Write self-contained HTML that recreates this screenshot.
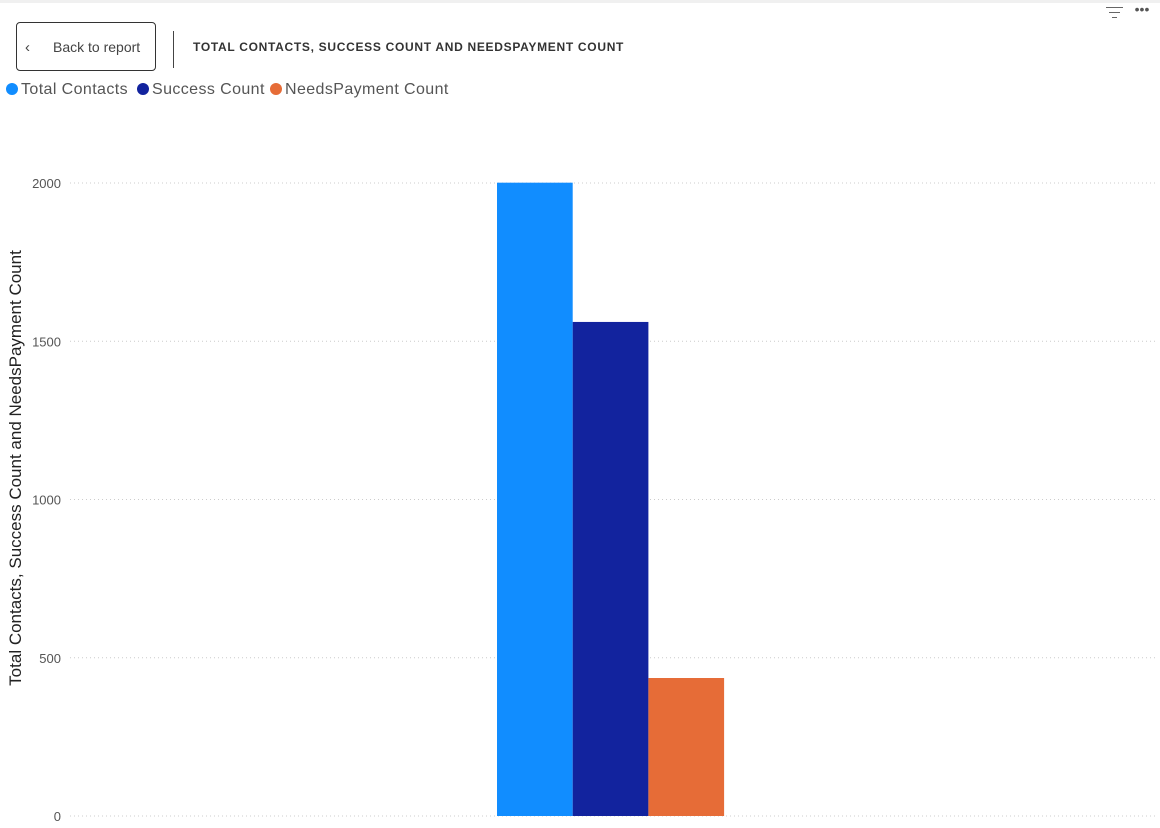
<!DOCTYPE html>
<html><head><meta charset="utf-8"><style>
body{margin:0;width:1160px;height:828px;background:#fff;font-family:"Liberation Sans",sans-serif;overflow:hidden;position:relative}
#topline{position:absolute;left:0;top:0;width:1160px;height:3px;background:#f0f0f0}
#back{position:absolute;left:16px;top:22px;width:140px;height:49px;border:1px solid #333;border-radius:4px;box-sizing:border-box;font-size:14px;color:#444;line-height:49px}
#sep{position:absolute;left:173px;top:31px;width:1px;height:37px;background:#444}
#title{position:absolute;left:193px;top:40px;font-size:12px;font-weight:bold;color:#333;letter-spacing:0.7px}
.leg{position:absolute;top:81px;font-size:16px;color:#555;white-space:nowrap;letter-spacing:0.4px}
.dot{display:inline-block;width:12px;height:12px;border-radius:50%;vertical-align:-1px;margin-right:3px}
</style></head><body>
<div id="topline"></div>
<div id="back"><span style="position:absolute;left:8px;font-size:15px">&#8249;</span><span style="position:absolute;left:36px">Back to report</span></div>
<div id="sep"></div>
<div id="title">TOTAL CONTACTS, SUCCESS COUNT AND NEEDSPAYMENT COUNT</div>
<div class="leg" style="left:6px"><span class="dot" style="background:#118DFF"></span>Total Contacts</div>
<div class="leg" style="left:137px"><span class="dot" style="background:#12239E"></span>Success Count</div>
<div class="leg" style="left:270px"><span class="dot" style="background:#E66C37"></span>NeedsPayment Count</div>
<svg id="chart" width="1160" height="828" style="position:absolute;left:0;top:0">
<g stroke="#666" stroke-width="1"><line x1="1106" y1="7.5" x2="1123" y2="7.5"/><line x1="1109" y1="12.5" x2="1120" y2="12.5"/><line x1="1112" y1="17.5" x2="1117" y2="17.5"/></g>
<text x="1142" y="14" font-size="14" fill="#555" text-anchor="middle">•••</text>
<text transform="translate(21,468) rotate(-90)" text-anchor="middle" font-size="17" fill="#222">Total Contacts, Success Count and NeedsPayment Count</text>
</svg>
<script>
const ticks=[0,500,1000,1500,2000];
const series=["Total Contacts","Success Count","NeedsPayment Count"];
const values=[2001,1561,436];
const colors=["#118DFF","#12239E","#E66C37"];
const svg=document.getElementById('chart');
const NS='http://www.w3.org/2000/svg';
const y0=816,yTop=183,maxV=2000;
function y(v){return y0-(v/maxV)*(y0-yTop);}
function x(i){return 497+i*75.7;}
ticks.forEach(t=>{
 const l=document.createElementNS(NS,'line');
 l.setAttribute('x1',70);l.setAttribute('x2',1156);l.setAttribute('y1',y(t));l.setAttribute('y2',y(t));
 l.setAttribute('stroke','#ccc');l.setAttribute('stroke-dasharray','1,3');
 
 
 svg.appendChild(l);
 const tx=document.createElementNS(NS,'text');
 tx.setAttribute('x',61);tx.setAttribute('y',y(t)+5);tx.setAttribute('text-anchor','end');
 tx.setAttribute('font-size','13');tx.setAttribute('fill','#555');tx.textContent=t;
 
 
 svg.appendChild(tx);
});
values.forEach((v,i)=>{
 const r=document.createElementNS(NS,'rect');
 r.setAttribute('x',x(i));r.setAttribute('width',75.7);r.setAttribute('y',y(v));r.setAttribute('height',y0-y(v));
 r.setAttribute('fill',colors[i]);
 
 
 svg.appendChild(r);
});
</script>
</body></html>
